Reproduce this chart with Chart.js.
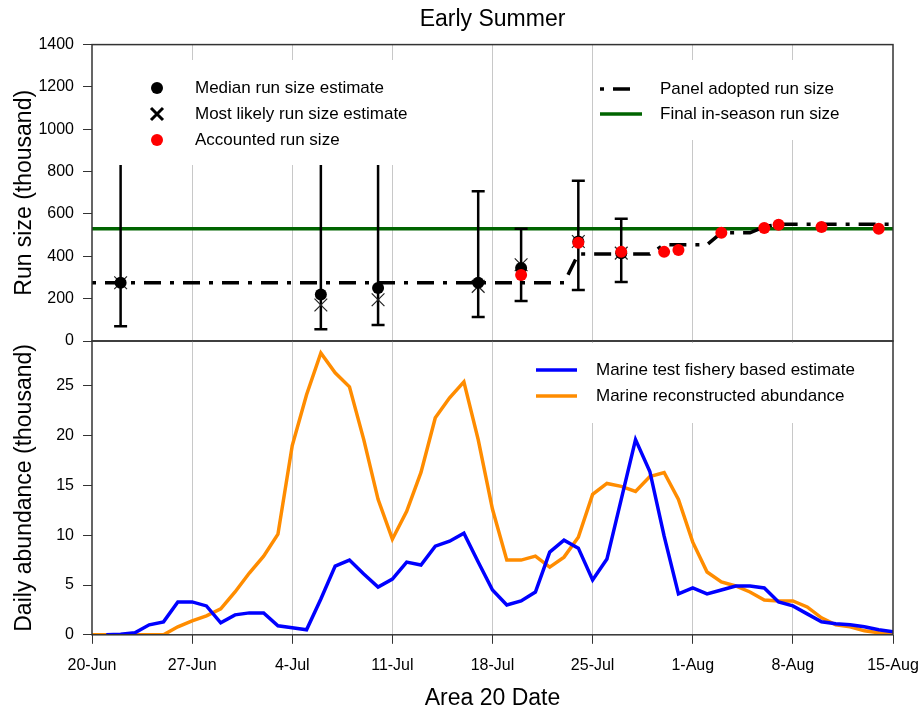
<!DOCTYPE html>
<html lang="en">
<head>
<meta charset="UTF-8" />
<title>Early Summer</title>
<script src="https://cdn.jsdelivr.net/npm/chart.js@4.4.0/dist/chart.umd.min.js"></script>
<style>
  body { margin: 0; background: #fff; }
  .wrap { position: relative; width: 924px; height: 711px; }
  .wrap canvas { position: absolute; left: 0; top: 0; }
</style>
</head>
<body>
<div class="wrap">
  <canvas id="runChart" width="924" height="711"></canvas>
  <canvas id="abundChart" width="924" height="711"></canvas>
</div>
<script>
const FONT = "'Liberation Sans', Arial, sans-serif"
Chart.defaults.font.family = FONT
Chart.defaults.color = '#000'

// x axis is days since 20-Jun, labelled once a week
const tickLabels = ['20-Jun', '27-Jun', '4-Jul', '11-Jul', '18-Jul', '25-Jul', '1-Aug', '8-Aug', '15-Aug']

// run size estimates (thousand)
const estDay = [2, 16, 20, 27, 30, 34, 37]
const medianEst = [275, 220, 250, 275, 345, 470, 415]
const likelyEst = [275, 170, 195, 258, 360, 470, 415]
const lowerEst = [70, 55, 76, 113, 189, 241, 279]
const upperEst = [962, 1150, 1150, 707, 530, 757, 577]

const accDay = [30, 34, 37, 40, 41, 44, 47, 48, 51, 55]
const accounted = [312, 464, 421, 421, 430, 511, 534, 549, 539, 530]

// panel adopted run size, one value per day (20-Jun .. 15-Aug)
const panelAdopted = [
  275, 275, 275, 275, 275, 275, 275, 275, 275, 275,
  275, 275, 275, 275, 275, 275, 275, 275, 275, 275,
  275, 275, 275, 275, 275, 275, 275, 275, 275, 275,
  275, 275, 275, 275, 411, 411, 411, 411, 411, 411,
  455, 455, 455, 455, 511, 511, 511, 540, 552, 552,
  552, 552, 552, 552, 552, 552, 552
]
const finalRunSize = 530

// daily abundance (thousand), 20-Jun .. 15-Aug
const testFishery = [
  null, 0, 0.05, 0.2, 1.0, 1.3, 3.3, 3.3, 2.9, 1.2,
  2.0, 2.2, 2.2, 0.9, 0.7, 0.5, 3.6, 6.9, 7.5, 6.1,
  4.8, 5.6, 7.3, 7.0, 8.9, 9.4, 10.2, 7.3, 4.5, 3.0,
  3.4, 4.3, 8.3, 9.5, 8.7, 5.5, 7.6, 13.6, 19.6, 16.4,
  9.9, 4.1, 4.7, 4.1, 4.5, 4.9, 4.9, 4.7, 3.3, 2.9,
  2.1, 1.3, 1.1, 1.0, 0.8, 0.5, 0.3
]
const reconstructed = [
  0, 0, 0, 0, 0, 0, 0.8, 1.4, 1.9, 2.6,
  4.3, 6.2, 7.9, 10.1, 19.0, 24.1, 28.3, 26.3, 24.9, 19.6,
  13.6, 9.6, 12.4, 16.3, 21.8, 23.8, 25.4, 19.6, 12.6, 7.5,
  7.5, 7.9, 6.8, 7.8, 9.8, 14.1, 15.2, 14.9, 14.4, 15.9,
  16.3, 13.6, 9.3, 6.3, 5.3, 4.9, 4.3, 3.5, 3.4, 3.4,
  2.8, 1.7, 1.0, 0.8, 0.4, 0.2, 0.1
]

const pairs = (days, vals) => days.map((d, i) => ({ x: d, y: vals[i] }))
const daily = vals => vals.map((v, i) => ({ x: i, y: v }))

// box around the plot area
const frame = {
  id: 'frame',
  afterDraw(chart) {
    const { ctx, chartArea: a } = chart
    ctx.save()
    ctx.strokeStyle = '#333'
    ctx.lineWidth = 1.5
    ctx.strokeRect(a.left, a.top, a.right - a.left, a.bottom - a.top)
    ctx.restore()
  }
}

// whiskers for datasets that carry errLow / errHigh
const errorBars = {
  id: 'errorBars',
  beforeDatasetDraw(chart, args) {
    const ds = chart.data.datasets[args.index]
    if (!ds.errLow) return
    const { ctx, scales: { x, y } } = chart
    ctx.save()
    ctx.strokeStyle = '#000'
    ctx.lineWidth = 2.5
    ds.data.forEach((p, i) => {
      const px = x.getPixelForValue(p.x)
      const lo = y.getPixelForValue(ds.errLow[i])
      const hi = y.getPixelForValue(ds.errHigh[i])
      ctx.beginPath()
      ctx.moveTo(px, lo); ctx.lineTo(px, hi)
      ctx.moveTo(px - 6.5, lo); ctx.lineTo(px + 6.5, lo)
      ctx.moveTo(px - 6.5, hi); ctx.lineTo(px + 6.5, hi)
      ctx.stroke()
    })
    ctx.restore()
  }
}

function drawKey(ctx, k, x, y) {
  ctx.save()
  if (k.kind === 'dot') {
    ctx.fillStyle = k.color
    ctx.beginPath(); ctx.arc(x, y, 6, 0, Math.PI * 2); ctx.fill()
  } else if (k.kind === 'cross') {
    ctx.strokeStyle = k.color
    ctx.lineWidth = 3
    ctx.beginPath()
    ctx.moveTo(x - 6, y - 6); ctx.lineTo(x + 6, y + 6)
    ctx.moveTo(x + 6, y - 6); ctx.lineTo(x - 6, y + 6)
    ctx.stroke()
  } else {
    ctx.strokeStyle = k.color
    ctx.lineWidth = 3.5
    ctx.setLineDash(k.dash || [])
    ctx.beginPath(); ctx.moveTo(x, y); ctx.lineTo(x + k.len, y); ctx.stroke()
  }
  ctx.restore()
}

// legends sit inside the plot on a white patch
const insetLegend = {
  id: 'insetLegend',
  afterDatasetsDraw(chart, args, opts) {
    const ctx = chart.ctx
    ctx.save()
    opts.boxes.forEach(box => {
      ctx.fillStyle = '#fff'
      ctx.fillRect(box.x, box.y, box.w, box.h)
      box.items.forEach((it, i) => {
        const y = box.rowY + i * box.rowGap
        drawKey(ctx, it, box.keyX, y)
        ctx.fillStyle = '#000'
        ctx.font = '17px ' + FONT
        ctx.textBaseline = 'middle'
        ctx.fillText(it.text, box.textX, y)
      })
    })
    ctx.restore()
  }
}

function xScale(showLabels) {
  return {
    type: 'linear',
    min: 0,
    max: 56,
    afterFit: s => { s.paddingLeft = 0; s.paddingRight = 0 },
    ticks: {
      display: showLabels,
      stepSize: 7,
      autoSkip: false,
      maxRotation: 0,
      padding: 12,
      font: { size: 16 },
      callback: v => tickLabels[v / 7]
    },
    grid: {
      color: c => (c.tick && (c.tick.value === 0 || c.tick.value === 56)) ? 'rgba(0,0,0,0)' : '#c8c8c8',
      lineWidth: 1,
      drawTicks: showLabels,
      tickLength: 9,
      tickColor: '#333'
    },
    border: { display: false },
    title: {
      display: showLabels,
      text: 'Area 20 Date',
      font: { size: 23, lineHeight: 1 },
      padding: { top: 0, bottom: 5 }
    }
  }
}

function yScale(max, step, title) {
  return {
    min: 0,
    max: max,
    afterBuildTicks: s => { s.ticks = s.ticks.filter(t => t.value % step === 0) },
    afterFit: s => { s.width = 92 },
    ticks: { stepSize: step, padding: 9, font: { size: 16 }, callback: v => String(v) },
    grid: { drawOnChartArea: false, tickLength: 9, color: '#333' },
    border: { display: false },
    title: { display: true, text: title, font: { size: 23 }, padding: { top: 11, bottom: 0 } }
  }
}

new Chart(document.getElementById('runChart'), {
  type: 'line',
  data: {
    datasets: [
      {
        label: 'Final in-season run size',
        data: [{ x: 0, y: finalRunSize }, { x: 56, y: finalRunSize }],
        borderColor: '#006400',
        borderWidth: 3.5,
        pointRadius: 0,
        order: 7
      },
      {
        label: 'Panel adopted run size',
        data: daily(panelAdopted),
        borderColor: '#000',
        borderWidth: 3.5,
        borderDash: [4, 9, 17, 9],
        pointRadius: 0,
        order: 6
      },
      {
        label: 'Most likely run size estimate',
        data: pairs(estDay, likelyEst),
        errLow: lowerEst,
        errHigh: upperEst,
        showLine: false,
        pointStyle: 'crossRot',
        pointRadius: 9,
        borderColor: '#222',
        borderWidth: 1.2,
        order: 5
      },
      {
        label: 'Median run size estimate',
        data: pairs(estDay, medianEst),
        showLine: false,
        pointRadius: 6,
        pointBackgroundColor: '#000',
        pointBorderWidth: 0,
        order: 4
      },
      {
        label: 'Accounted run size',
        data: pairs(accDay, accounted),
        showLine: false,
        pointRadius: 6,
        pointBackgroundColor: '#ff0000',
        pointBorderWidth: 0,
        order: 3
      }
    ]
  },
  options: {
    responsive: false,
    animation: false,
    events: [],
    layout: { padding: { left: 0, right: 31, top: 0, bottom: 370 } },
    scales: {
      x: xScale(false),
      y: yScale(1400, 200, 'Run size (thousand)')
    },
    plugins: {
      legend: { display: false },
      tooltip: { enabled: false },
      title: {
        display: true,
        text: 'Early Summer',
        fullSize: false,
        font: { size: 23, weight: 'normal' },
        color: '#000',
        padding: { top: 6, bottom: 11 }
      },
      insetLegend: {
        boxes: [
          {
            x: 95, y: 60, w: 345, h: 105, keyX: 157, textX: 195, rowY: 88, rowGap: 26,
            items: [
              { kind: 'dot', color: '#000', text: 'Median run size estimate' },
              { kind: 'cross', color: '#000', text: 'Most likely run size estimate' },
              { kind: 'dot', color: '#ff0000', text: 'Accounted run size' }
            ]
          },
          {
            x: 596, y: 60, w: 294, h: 80, keyX: 600, textX: 660, rowY: 89, rowGap: 25,
            items: [
              { kind: 'line', color: '#000', len: 32, dash: [4, 9, 17, 9], text: 'Panel adopted run size' },
              { kind: 'line', color: '#006400', len: 42, text: 'Final in-season run size' }
            ]
          }
        ]
      }
    }
  },
  plugins: [frame, errorBars, insetLegend]
})

new Chart(document.getElementById('abundChart'), {
  type: 'line',
  data: {
    datasets: [
      {
        label: 'Marine test fishery based estimate',
        data: daily(testFishery),
        borderColor: '#0000ff',
        borderWidth: 3.5,
        pointRadius: 0,
        order: 1
      },
      {
        label: 'Marine reconstructed abundance',
        data: daily(reconstructed),
        borderColor: '#ff8c00',
        borderWidth: 3.5,
        pointRadius: 0,
        order: 2
      }
    ]
  },
  options: {
    responsive: false,
    animation: false,
    events: [],
    layout: { padding: { left: 0, right: 31, top: 341, bottom: -4 } },
    scales: {
      x: xScale(true),
      y: yScale(29.5, 5, 'Daily abundance (thousand)')
    },
    plugins: {
      legend: { display: false },
      tooltip: { enabled: false },
      insetLegend: {
        boxes: [
          {
            x: 500, y: 343, w: 390, h: 80, keyX: 536, textX: 596, rowY: 370, rowGap: 26,
            items: [
              { kind: 'line', color: '#0000ff', len: 41, text: 'Marine test fishery based estimate' },
              { kind: 'line', color: '#ff8c00', len: 41, text: 'Marine reconstructed abundance' }
            ]
          }
        ]
      }
    }
  },
  plugins: [frame, insetLegend]
})
</script>
</body>
</html>
